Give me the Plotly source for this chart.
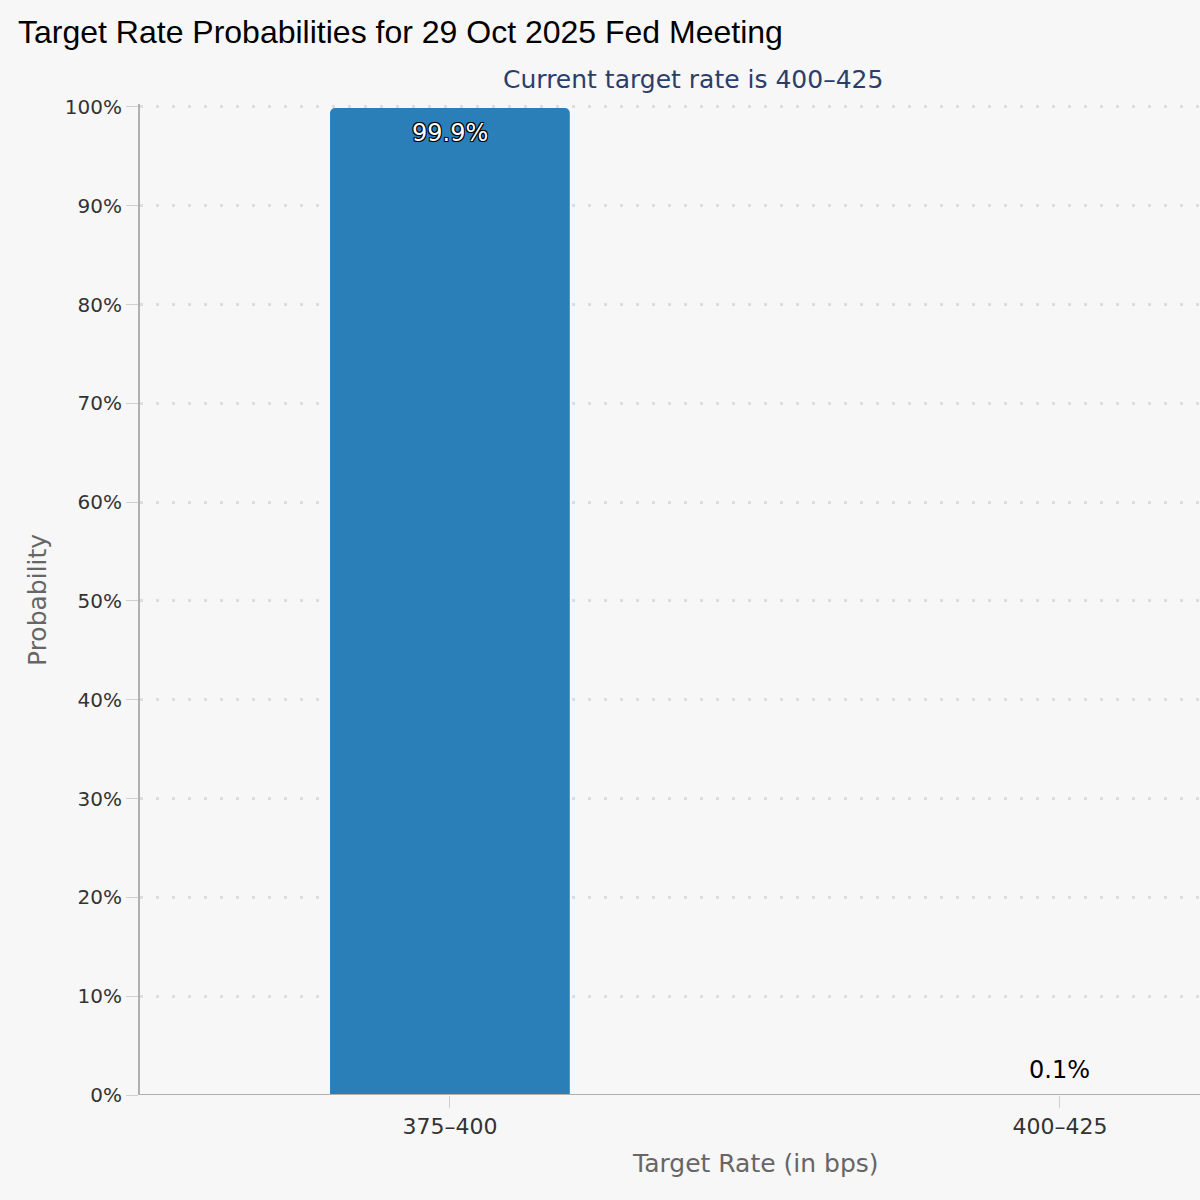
import plotly.graph_objects as go

categories = ["375-400", "400-425"]
probabilities = [99.9, 0.1]
labels = ["99.9%", "0.1%"]
y_ticks = [0, 10, 20, 30, 40, 50, 60, 70, 80, 90, 100]
y_tick_text = [f"{v}%" for v in y_ticks]

title_text = "Target Rate Probabilities for 29 Oct 2025 Fed Meeting"
subtitle_text = "Current target rate is 400\u2013425"
x_title = "Target Rate (in bps)"
y_title = "Probability"

tick_font = "DejaVu Sans"
cat_text = [c.replace("-", "\u2013") for c in categories]

W, H = 1200, 1200
ML, MR, MT, MB = 140, 0, 104, 105
PW, PH = W - ML - MR, H - MT - MB


def px_x(x):
    return (x - ML) / PW


def px_y(y):
    return (H - MB - y) / PH


fig = go.Figure()
fig.add_trace(go.Bar(
    x=cat_text,
    y=probabilities,
    width=0.393,
    marker=dict(color="#2a7fb8", line=dict(width=0), cornerradius=5),
    cliponaxis=False,
    hoverinfo="skip",
))

annots = []
for cat, val, lab in zip(cat_text, probabilities, labels):
    inside = val > 50
    annots.append(dict(
        text=lab, x=cat, y=val, xref="x", yref="y",
        xanchor="center", yanchor="middle",
        yshift=-25 if inside else 24,
        showarrow=False,
        font=dict(family=tick_font, size=24, color="white" if inside else "black",
                  shadow=("1px 1px 0 #000, -1px -1px 0 #000, 1px -1px 0 #000, -1px 1px 0 #000"
                          if inside else "none")),
    ))

annots += [
    dict(text=subtitle_text, xref="paper", yref="paper",
         x=px_x(693), y=px_y(79), xanchor="center", yanchor="middle",
         showarrow=False, font=dict(family=tick_font, size=25, color="#2b3e6b")),
    dict(text=x_title, xref="paper", yref="paper",
         x=px_x(755), y=px_y(1163), xanchor="center", yanchor="middle",
         showarrow=False, font=dict(family=tick_font, size=25, color="#666666")),
    dict(text=y_title, xref="paper", yref="paper", textangle=-90,
         x=px_x(37), y=px_y(600), xanchor="center", yanchor="middle",
         showarrow=False, font=dict(family=tick_font, size=25, color="#666666")),
]

fig.update_layout(
    width=W, height=H,
    margin=dict(l=ML, r=MR, t=MT, b=MB, autoexpand=False),
    paper_bgcolor="#f7f7f7",
    plot_bgcolor="#f7f7f7",
    showlegend=False,
    title=dict(text=title_text, x=18 / W, xref="container", xanchor="left",
               y=1 - 32 / H, yref="container", yanchor="middle",
               font=dict(family="Liberation Sans", size=32, color="black")),
    xaxis=dict(
        type="category",
        range=[-0.508, 1.2295],
        showgrid=False,
        showline=False,
        ticks="outside", ticklen=12, tickcolor="#d0d0d0", tickwidth=1,
        tickfont=dict(family=tick_font, size=22, color="#333333"),
        zeroline=False,
        fixedrange=True,
    ),
    yaxis=dict(
        range=[0, 100.3],
        tickvals=y_ticks, ticktext=y_tick_text,
        showgrid=True, gridcolor="#dddddd", gridwidth=3, griddash="3px,13px",
        showline=True, linecolor="#b0b0b0", linewidth=2,
        ticks="outside", ticklen=12, tickcolor="#d0d0d0", tickwidth=1,
        ticklabelstandoff=0,
        tickfont=dict(family=tick_font, size=20, color="#333333"),
        zeroline=False,
        fixedrange=True,
    ),
    shapes=[dict(type="line", xref="paper", yref="y", x0=0, x1=1, y0=0, y1=0,
                 line=dict(color="#b0b0b0", width=2), layer="above")],
    annotations=annots,
)

fig.write_html("out.html", config={"displayModeBar": False},
               post_script="document.body.style.margin='0';document.body.style.background='#f7f7f7';")
